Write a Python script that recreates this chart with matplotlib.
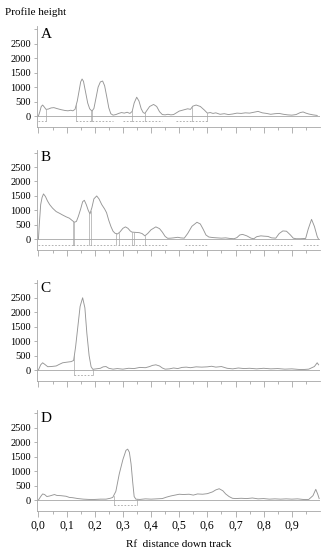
'''
Densitometric profiles of four tracks (A-D), profile height vs Rf
'''
import matplotlib
matplotlib.use('Agg')
import matplotlib.pyplot as plt
import numpy as np

plt.rcParams['font.family'] = ['Liberation Serif', 'DejaVu Serif']

# profile readings (Rf, height) for each track
rf_a = [0.000, 0.005, 0.010, 0.015, 0.020, 0.027, 0.035, 0.045, 0.055, 0.065, 0.080, 0.095, 0.105, 0.115,
        0.122, 0.130, 0.138, 0.145, 0.150, 0.155, 0.160, 0.167, 0.175, 0.182, 0.190, 0.197, 0.205, 0.212,
        0.220, 0.228, 0.235, 0.243, 0.250, 0.257, 0.265, 0.275, 0.285, 0.295, 0.305, 0.315, 0.325, 0.333,
        0.340, 0.349, 0.357, 0.365, 0.372, 0.378, 0.385, 0.395, 0.409, 0.420, 0.430, 0.440, 0.450, 0.460,
        0.470, 0.480, 0.490, 0.500, 0.515, 0.530, 0.540, 0.548, 0.560, 0.575, 0.590, 0.600, 0.610, 0.620,
        0.630, 0.645, 0.660, 0.675, 0.690, 0.705, 0.720, 0.735, 0.750, 0.765, 0.780, 0.795, 0.810, 0.825,
        0.840, 0.855, 0.870, 0.885, 0.900, 0.915, 0.930, 0.940, 0.950, 0.960, 0.975, 0.990]
h_a = [0, 150, 330, 380, 320, 230, 240, 280, 290, 260, 220, 190, 180, 200,
       180, 230, 520, 900, 1180, 1280, 1200, 850, 450, 250, 170, 260, 650, 1000,
       1180, 1210, 1050, 650, 280, 80, 30, 50, 90, 120, 100, 130, 90, 160,
       450, 650, 520, 250, 120, 90, 190, 330, 400, 330, 150, 50, 40, 60,
       40, 50, 110, 170, 210, 250, 230, 340, 380, 330, 200, 100, 120, 90,
       110, 60, 80, 50, 70, 100, 90, 110, 100, 130, 160, 110, 90, 60,
       80, 90, 60, 40, 30, 50, 120, 140, 100, 70, 40, 20]

rf_b = [0.000, 0.003, 0.008, 0.013, 0.018, 0.025, 0.032, 0.040, 0.050, 0.063, 0.075, 0.086, 0.098, 0.110,
        0.120, 0.128, 0.135, 0.142, 0.150, 0.157, 0.163, 0.170, 0.177, 0.183, 0.190, 0.197, 0.207, 0.215,
        0.225, 0.235, 0.242, 0.250, 0.258, 0.265, 0.272, 0.281, 0.290, 0.300, 0.309, 0.318, 0.326, 0.332,
        0.345, 0.358, 0.368, 0.378, 0.388, 0.400, 0.417, 0.430, 0.440, 0.450, 0.459, 0.470, 0.480, 0.495,
        0.505, 0.518, 0.530, 0.545, 0.563, 0.575, 0.585, 0.595, 0.605, 0.620, 0.635, 0.650, 0.665, 0.680,
        0.695, 0.705, 0.715, 0.725, 0.740, 0.755, 0.765, 0.775, 0.790, 0.800, 0.815, 0.828, 0.843, 0.855,
        0.868, 0.881, 0.895, 0.905, 0.915, 0.930, 0.949, 0.958, 0.970, 0.980, 0.990, 0.995]
h_b = [0, 500, 1200, 1450, 1570, 1480, 1330, 1200, 1080, 960, 900, 840, 780, 730,
       650, 590, 620, 800, 1050, 1300, 1350, 1200, 1000, 880, 1100, 1400, 1500, 1400,
       1200, 1050, 920, 650, 430, 280, 210, 185, 260, 380, 430, 380, 290, 250,
       240, 230, 200, 120, 200, 330, 430, 370, 250, 100, 35, 40, 50, 70,
       50, 40, 200, 450, 590, 530, 350, 150, 80, 60, 50, 40, 50, 30,
       20, 60, 150, 170, 120, 40, 20, 90, 120, 110, 100, 50, 40, 200,
       290, 280, 150, 40, 20, 20, 30, 350, 690, 450, 100, 0]

rf_c = [0.000, 0.008, 0.015, 0.022, 0.033, 0.045, 0.063, 0.075, 0.086, 0.100, 0.116, 0.125, 0.132, 0.140,
        0.148, 0.157, 0.165, 0.172, 0.180, 0.187, 0.193, 0.205, 0.220, 0.230, 0.240, 0.250, 0.265, 0.280,
        0.300, 0.320, 0.340, 0.360, 0.380, 0.395, 0.405, 0.417, 0.430, 0.440, 0.450, 0.465, 0.480, 0.495,
        0.510, 0.525, 0.540, 0.560, 0.580, 0.600, 0.615, 0.630, 0.650, 0.670, 0.690, 0.710, 0.730, 0.750,
        0.775, 0.800, 0.825, 0.850, 0.875, 0.900, 0.925, 0.945, 0.960, 0.980, 0.990, 0.995]
h_c = [0, 180, 250, 200, 115, 120, 140, 200, 250, 270, 290, 330, 800, 1500,
       2200, 2500, 2150, 1270, 500, 115, 25, 40, 60, 110, 120, 60, 30, 50,
       30, 60, 50, 90, 80, 120, 160, 180, 140, 70, 30, 40, 70, 50,
       90, 100, 80, 110, 100, 110, 130, 100, 120, 60, 40, 70, 50, 60,
       40, 60, 40, 50, 30, 40, 20, 20, 30, 120, 250, 180]

rf_d = [0.000, 0.008, 0.015, 0.022, 0.030, 0.040, 0.050, 0.057, 0.065, 0.080, 0.098, 0.110, 0.122, 0.140,
        0.160, 0.180, 0.200, 0.220, 0.240, 0.255, 0.264, 0.275, 0.287, 0.300, 0.311, 0.317, 0.323, 0.329,
        0.335, 0.340, 0.346, 0.360, 0.380, 0.400, 0.420, 0.440, 0.455, 0.470, 0.485, 0.500, 0.515, 0.535,
        0.550, 0.565, 0.583, 0.600, 0.618, 0.630, 0.642, 0.655, 0.665, 0.677, 0.689, 0.700, 0.720, 0.740,
        0.760, 0.780, 0.800, 0.820, 0.840, 0.860, 0.880, 0.900, 0.920, 0.940, 0.960, 0.975, 0.985, 0.992,
        0.997]
h_d = [0, 120, 210, 190, 120, 140, 170, 190, 160, 150, 130, 90, 80, 50,
       30, 20, 20, 30, 30, 60, 90, 300, 900, 1400, 1720, 1760, 1650, 1250,
       600, 120, 30, 20, 40, 30, 40, 50, 100, 140, 170, 200, 190, 200,
       170, 210, 200, 220, 280, 350, 390, 320, 210, 120, 60, 50, 60, 50,
       70, 40, 50, 30, 40, 30, 40, 30, 40, 20, 20, 150, 370, 200,
       50]

# integration windows (dashed, below baseline) and peak boundary drop lines
zones_a = [(0.0, 0.027), (0.134, 0.19), (0.19, 0.264), (0.30, 0.333), (0.333, 0.378),
           (0.378, 0.44), (0.49, 0.545), (0.545, 0.60)]
zones_b = [(0.0, 0.122), (0.122, 0.183), (0.183, 0.275), (0.281, 0.332), (0.332, 0.378),
           (0.378, 0.459), (0.52, 0.60), (0.70, 0.76), (0.77, 0.845), (0.848, 0.905), (0.94, 0.995)]
zones_c = [(0.128, 0.193)]
zones_d = [(0.267, 0.349)]

drops_a = [0.027, 0.134, 0.188, 0.192, 0.333, 0.378, 0.545, 0.60]
drops_b = [0.122, 0.128, 0.180, 0.186, 0.275, 0.287, 0.332, 0.338, 0.378]
drops_c = [0.128, 0.193]
drops_d = [0.267, 0.349]

letters = ['A', 'B', 'C', 'D']
yticks = [0, 500, 1000, 1500, 2000, 2500, 3000]
ytick_labels = ['0', '500', '1000', '1500', '2000', '2500', '']
xticks = [0.0, 0.1, 0.2, 0.3, 0.4, 0.5, 0.6, 0.7, 0.8, 0.9]
xtick_labels = ['0,0', '0,1', '0,2', '0,3', '0,4', '0,5', '0,6', '0,7', '0,8', '0,9']

line_col = '#969696'
axis_col = '#a6a6a6'
W, H = 332, 550
fig = plt.figure(figsize=(W / 100, H / 100), dpi=100)

panel_tops = [26.4, 149.7, 280.4, 410.4]  # pixel rows of the y = 3100 level
panel_h = 100.6
left_px, right_px = 37.3, 320.0

profiles = [(rf_a, h_a, zones_a, drops_a), (rf_b, h_b, zones_b, drops_b),
            (rf_c, h_c, zones_c, drops_c), (rf_d, h_d, zones_d, drops_d)]

for i, (rf, h, zones, drops) in enumerate(profiles):
    top = panel_tops[i]
    ax = fig.add_axes([left_px / W, 1 - (top + panel_h) / H, (right_px - left_px) / W, panel_h / H])
    ax.set_xlim(-0.004, 1.0)
    ax.set_ylim(-380, 3100)
    ax.plot(rf, h, color=line_col, lw=0.65)
    ax.axhline(0, color=axis_col, lw=0.6)
    dash_y = -180
    for x0, x1 in zones:
        ax.plot([x0, x1], [dash_y, dash_y], color=axis_col, lw=0.6, ls=(0, (2, 2)))
    for xd in drops:
        top_y = np.interp(xd, rf, h)
        ax.plot([xd, xd], [dash_y, top_y], color=axis_col, lw=0.5)
    ax.text(0.012, 0.985, letters[i], transform=ax.transAxes, fontsize=11, va='top', ha='left')

    for s in ['top', 'right']:
        ax.spines[s].set_visible(False)
    for s in ['left', 'bottom']:
        ax.spines[s].set_color(axis_col)
        ax.spines[s].set_linewidth(0.6)
    ax.set_yticks(yticks)
    ax.set_yticklabels(ytick_labels)
    ax.set_xticks(xticks)
    ax.set_xticks(np.arange(0.05, 1.0, 0.1), minor=True)
    ax.tick_params(axis='y', length=2.5, width=0.6, color=axis_col, labelsize=7.5, pad=2)
    ax.tick_params(axis='x', which='major', length=4, width=0.6, color=axis_col, direction='out')
    ax.tick_params(axis='x', which='minor', length=2.5, width=0.6, color=axis_col, direction='out')
    if i == 3:
        ax.set_xticklabels(xtick_labels)
        ax.tick_params(axis='x', labelsize=8.5, pad=2)
        ax.set_xlabel('Rf  distance down track', fontsize=8, labelpad=6)
    else:
        ax.set_xticklabels([])

fig.text(5 / W, 1 - 12 / H, 'Profile height', fontsize=8, va='center', ha='left')

plt.savefig('out.png', dpi=100)
